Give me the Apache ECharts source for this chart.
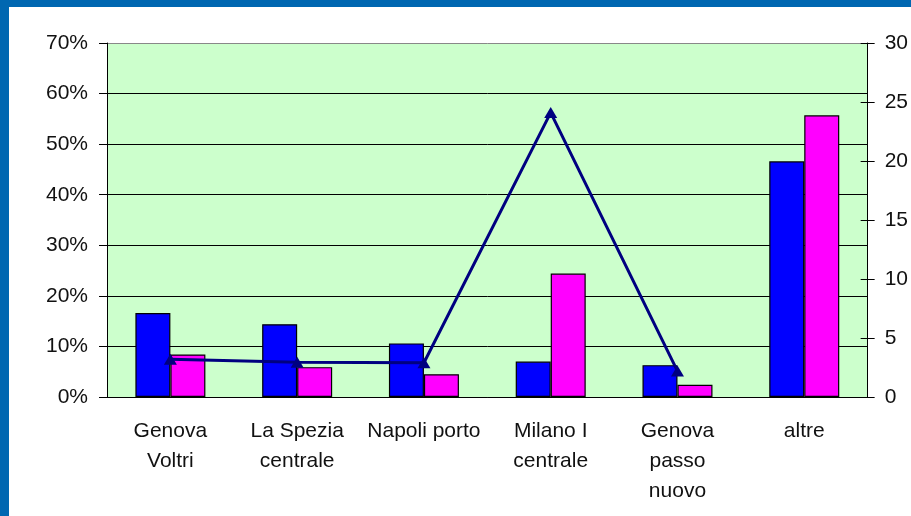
<!DOCTYPE html>
<html>
<head>
<meta charset="utf-8">
<script src="https://cdn.jsdelivr.net/npm/echarts@6/dist/echarts.min.js"></script>
<style>
  html, body { margin: 0; padding: 0; background: #fff; }
  #main { width: 911px; height: 516px; }
</style>
</head>
<body>
<div id="main"></div>
<script>
// categorie (con a capo come nel grafico originale)
var categorie = ['Genova\nVoltri', 'La Spezia\ncentrale', 'Napoli porto', 'Milano I\ncentrale', 'Genova\npasso\nnuovo', 'altre'];
// barre blu e magenta, asse sinistro (%)
var serieBlu = [16.6, 14.4, 10.6, 7.0, 6.3, 46.6];
var serieMagenta = [8.4, 5.9, 4.5, 24.4, 2.4, 55.7];
// linea, asse destro
var serieLinea = [3.2, 2.95, 2.9, 24.1, 2.2, null];
// etichette assi
var tickSinistra = [0, 10, 20, 30, 40, 50, 60, 70];
var tickDestra = [0, 5, 10, 15, 20, 25, 30];

var myChart = echarts.init(document.getElementById('main'));
var font = 'Liberation Sans, Arial, sans-serif';

var option = {
    animation: false,
    backgroundColor: '#ffffff',
    graphic: [
        // cornice blu della diapositiva
        { type: 'rect', shape: { x: 0, y: 0, width: 911, height: 7 }, style: { fill: '#0067b1' } },
        { type: 'rect', shape: { x: 0, y: 0, width: 9, height: 516 }, style: { fill: '#0067b1' } }
    ],
    grid: {
        left: 107, right: 41, top: 43, bottom: 119,
        show: true, backgroundColor: '#ccffcc', borderWidth: 0
    },
    xAxis: {
        type: 'category',
        data: categorie,
        axisLine: { lineStyle: { color: '#000', width: 1 } },
        axisTick: { length: 7, lineStyle: { color: '#000' } },
        axisLabel: {
            margin: 19, color: '#111', fontFamily: font, fontSize: 21,
            lineHeight: 30, interval: 0
        }
    },
    yAxis: [{
        type: 'value',
        min: tickSinistra[0], max: tickSinistra[tickSinistra.length - 1], interval: 10,
        axisLine: { show: true, lineStyle: { color: '#000' } },
        axisTick: { show: true, length: 8, lineStyle: { color: '#000' } },
        axisLabel: { formatter: '{value}%', margin: 19, color: '#111', fontFamily: font, fontSize: 21 },
        splitLine: { show: true, lineStyle: { color: ['#000', '#000', '#000', '#000', '#000', '#000', '#000', '#888'], width: 1 } }
    }, {
        type: 'value',
        position: 'right',
        min: tickDestra[0], max: tickDestra[tickDestra.length - 1], interval: 5,
        axisLine: { show: true, lineStyle: { color: '#000' } },
        axisTick: { show: true, length: 7, lineStyle: { color: '#000' } },
        axisLabel: { margin: 17, color: '#111', fontFamily: font, fontSize: 21 },
        splitLine: { show: false }
    }, {
        // tacche interne dell'asse destro (in Excel attraversano l'asse)
        type: 'value',
        position: 'right',
        min: tickDestra[0], max: tickDestra[tickDestra.length - 1], interval: 5,
        axisLine: { show: false },
        axisTick: { show: true, inside: true, length: 7, lineStyle: { color: '#000' } },
        axisLabel: { show: false },
        splitLine: { show: false }
    }],
    series: [{
        type: 'bar',
        data: serieBlu,
        barWidth: 35,
        barGap: '0%',
        itemStyle: { color: '#0000ff', borderColor: '#000', borderWidth: 1.2 }
    }, {
        type: 'bar',
        data: serieMagenta,
        barWidth: 35,
        barGap: '0%',
        itemStyle: { color: '#ff00ff', borderColor: '#000', borderWidth: 1.2 }
    }, {
        type: 'line',
        yAxisIndex: 1,
        data: serieLinea,
        symbol: 'triangle',
        symbolSize: [13, 11],
        lineStyle: { color: '#000080', width: 3 },
        itemStyle: { color: '#000080' },
        z: 5
    }]
};

myChart.setOption(option);
</script>
</body>
</html>
